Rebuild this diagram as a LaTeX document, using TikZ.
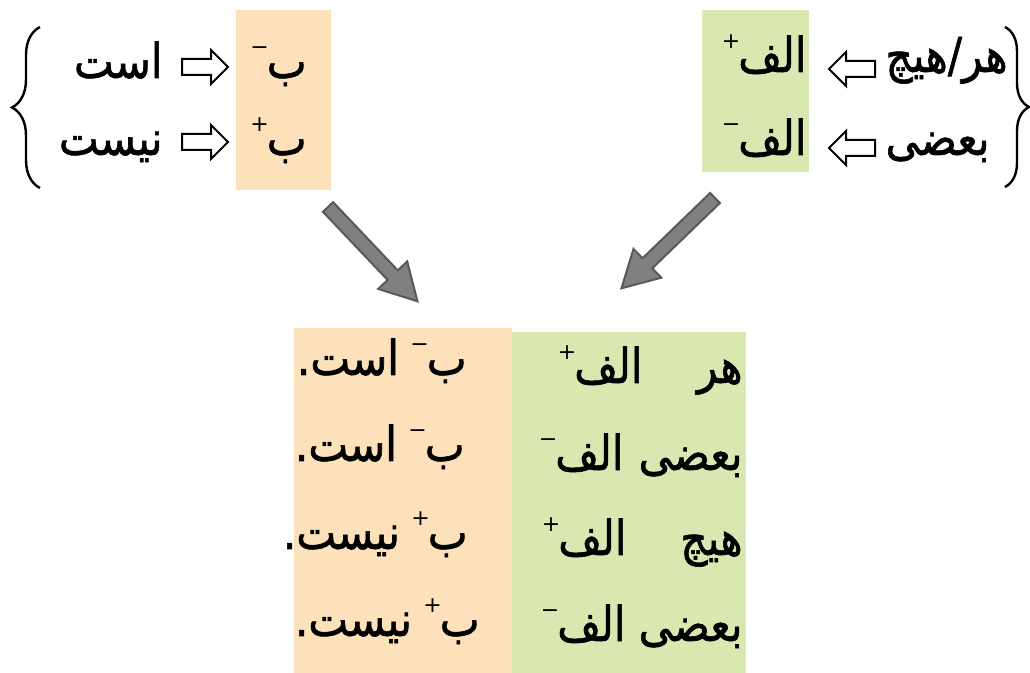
\documentclass[tikz,border=0pt]{standalone}
\usepackage{fontspec}
\newfontfamily\farsi[Script=Arabic,FakeStretch=0.88,FakeBold=1.2]{DejaVu Sans}
\newfontfamily\signs{DejaVu Sans}
\TeXXeTstate=1
\usetikzlibrary{decorations.pathreplacing}

\definecolor{peach}{RGB}{253,225,186}
\definecolor{lime}{RGB}{217,231,176}
\definecolor{arrowgray}{RGB}{128,128,130}
% small raised sign after a letter
\newcommand\sgn[1]{\kern-1pt\raisebox{0.48em}{\signs\fontsize{11}{11}\selectfont #1}\kern-1pt\relax}

\begin{document}
\begin{tikzpicture}[x=0.5pt,y=-0.5pt,
    fa/.style={inner sep=0pt,anchor=base east,font=\fontsize{24}{28}\selectfont\farsi},
    curly/.style={decorate,decoration={brace,amplitude=#1},line width=1.2pt},
    harrow/.pic={\draw[line width=1pt,fill=white] (-23,-8) -- (6,-8) -- (6,-17) -- (23,0) -- (6,17) -- (6,8) -- (-23,8) -- cycle;},
    fatarrow/.pic={\draw[line width=1pt,draw=black!65,fill=arrowgray] (0,-7) -- (94,-7) -- (94,-20) -- (130,0) -- (94,20) -- (94,7) -- (0,7) -- cycle;}]
    \useasboundingbox (0,0) rectangle (1030,673);
    % colour boxes
    \fill[peach] (236,10) rectangle (331,190);
    \fill[lime] (702,10) rectangle (809,172);
    \fill[peach] (294,328) rectangle (512,673);
    \fill[lime] (512,332) rectangle (746,673);

    % top left
    \draw[curly=14pt] (40,188) -- (40,27);
    \node[fa] (bneg) at (307,78) {\beginR ب\sgn{−}\endR};
    \node[fa] (bpos) at (307,155) {\beginR ب\sgn{+}\endR};
    \pic at (205,67) {harrow};
    \pic at (205,142) {harrow};
    \node[fa] (ast) at (163,78) {\beginR است\endR};
    \node[fa] (nist) at (163,155) {\beginR نیست\endR};

    % top right
    \draw[curly=12pt] (1005,27) -- (1005,187);
    \node[fa] (apos) at (807,72) {\beginR الف\sgn{+}\endR};
    \node[fa] (aneg) at (807,155) {\beginR الف\sgn{−}\endR};
    \pic[rotate=180] at (852,69) {harrow};
    \pic[rotate=180] at (852,148) {harrow};
    \node[fa] (harhich) at (1008,72) {\beginR هر/هیچ\endR};
    \node[fa] (bazi) at (990,155) {\beginR بعضی\endR};

    % gray arrows
    \pic[rotate=-46.5] at (328,207) {fatarrow};
    \pic[rotate=-136] at (715,198) {fatarrow};

    % bottom table, green column
    \node[fa] (q1) at (743,383) {\beginR هر\endR};
    \node[fa] (q2) at (743,470) {\beginR بعضی\endR};
    \node[fa] (q3) at (743,555) {\beginR هیچ\endR};
    \node[fa] (q4) at (743,641) {\beginR بعضی\endR};
    \node[fa] (a1) at (643,383) {\beginR الف\sgn{+}\endR};
    \node[fa] (a2) at (624,470) {\beginR الف\sgn{−}\endR};
    \node[fa] (a3) at (627,555) {\beginR الف\sgn{+}\endR};
    \node[fa] (a4) at (626,641) {\beginR الف\sgn{−}\endR};
    % orange column
    \node[fa] (p1) at (467,375) {\beginR ب\sgn{−} است.\endR};
    \node[fa] (p2) at (465,461) {\beginR ب\sgn{−} است.\endR};
    \node[fa] (p3) at (468,549) {\beginR ب\sgn{+} نیست.\endR};
    \node[fa] (p4) at (480,636) {\beginR ب\sgn{+} نیست.\endR};
\end{tikzpicture}
\end{document}
